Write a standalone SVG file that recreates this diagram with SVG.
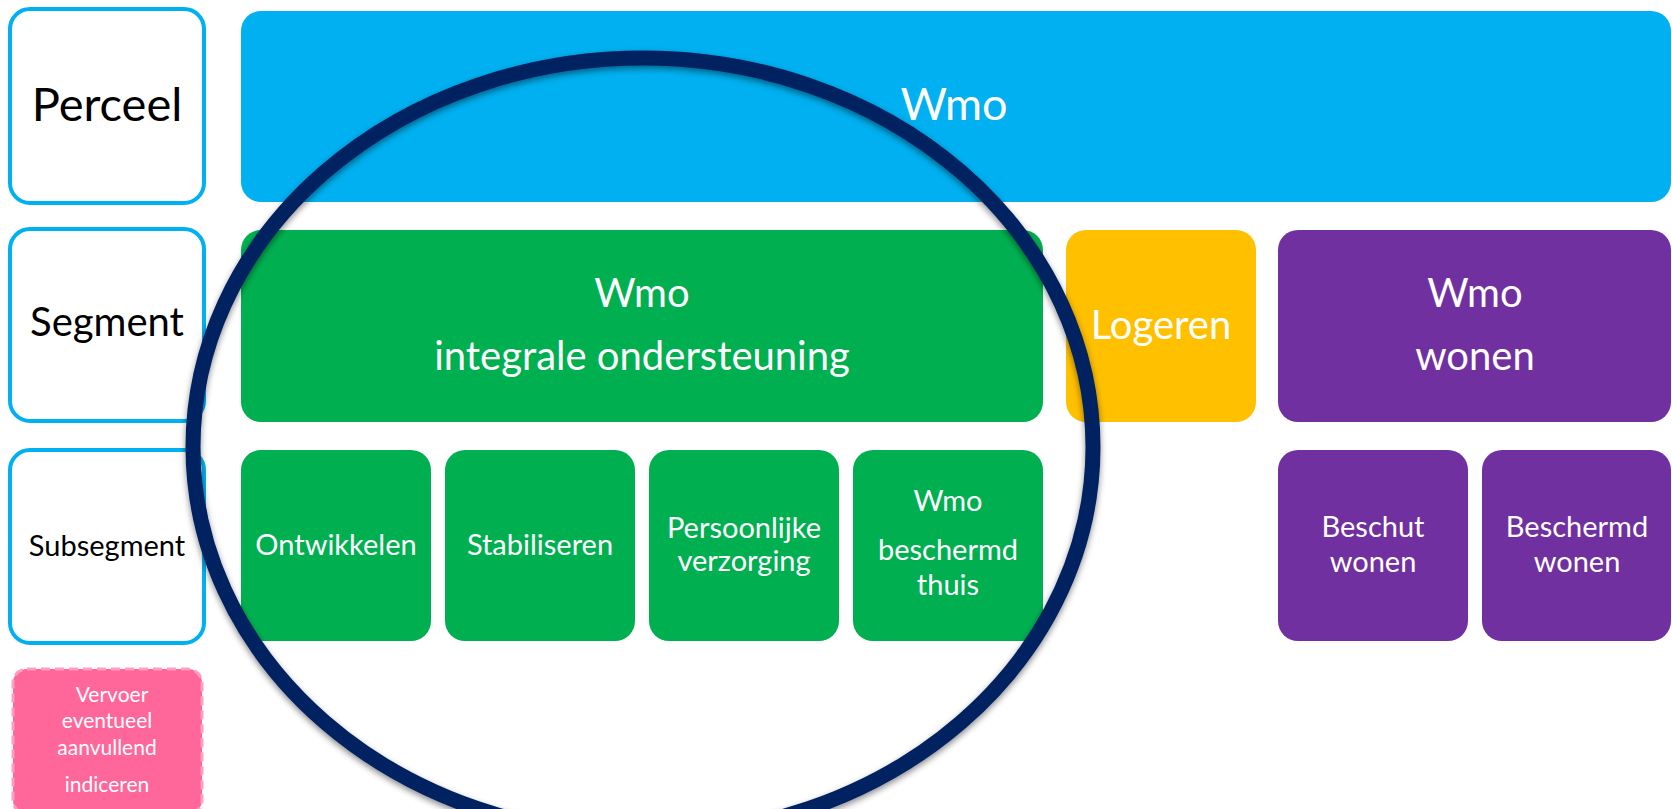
<svg xmlns="http://www.w3.org/2000/svg" width="1672" height="809" viewBox="0 0 1672 809">
<style>
text{font-family:Lato,"Liberation Sans","Noto Sans",sans-serif;text-anchor:middle}
.lab{fill:#fff;stroke:#00B0F0;stroke-width:4}
.t{fill:#000}
.w{fill:#fff}
.blue{fill:#00B0F0}
.green{fill:#00B050}
.yellow{fill:#FFC000}
.purple{fill:#7030A0}
</style>
<defs>
<filter id="sh" x="-10%" y="-10%" width="120%" height="120%">
<feDropShadow dx="0" dy="3" stdDeviation="3" flood-color="#000" flood-opacity="0.45"/>
</filter>
</defs>
<g id="label-perceel"><rect class="lab" x="10" y="9" width="194" height="194" rx="20"/><text class="t" x="107" y="121" font-size="47">Perceel</text></g>
<g id="label-segment"><rect class="lab" x="10" y="229" width="194" height="192" rx="20"/><text class="t" x="107" y="336" font-size="40">Segment</text></g>
<g id="label-subsegment"><rect class="lab" x="10" y="450" width="194" height="193" rx="20"/><text class="t" x="107" y="556" font-size="29">Subsegment</text></g>
<g id="vervoer"><rect x="13" y="669" width="189" height="145" rx="14" fill="#FF6699" stroke="#FF9EC0" stroke-width="3" stroke-dasharray="9 5"/>
<text class="w" font-size="21"><tspan x="112" y="702">Vervoer</tspan><tspan x="107" y="728">eventueel</tspan><tspan x="107" y="755">aanvullend</tspan><tspan x="107" y="792">indiceren</tspan></text></g>
<g id="wmo-perceel"><rect class="blue" x="241" y="11" width="1430" height="191" rx="20"/><text class="w" x="954" y="120" font-size="45">Wmo</text></g>
<g id="wmo-integrale"><rect class="green" x="241" y="230" width="802" height="192" rx="20"/><text class="w" font-size="40"><tspan x="642" y="307">Wmo</tspan><tspan x="642" y="370">integrale ondersteuning</tspan></text></g>
<g id="logeren"><rect class="yellow" x="1066" y="230" width="190" height="192" rx="20"/><text class="w" x="1161" y="339" font-size="40">Logeren</text></g>
<g id="wmo-wonen"><rect class="purple" x="1278" y="230" width="393" height="192" rx="20"/><text class="w" font-size="40"><tspan x="1475" y="307">Wmo</tspan><tspan x="1475" y="370">wonen</tspan></text></g>
<g id="ontwikkelen"><rect class="green" x="241" y="450" width="190" height="191" rx="20"/><text class="w" x="336" y="555" font-size="29">Ontwikkelen</text></g>
<g id="stabiliseren"><rect class="green" x="445" y="450" width="190" height="191" rx="20"/><text class="w" x="540" y="555" font-size="29">Stabiliseren</text></g>
<g id="persoonlijke"><rect class="green" x="649" y="450" width="190" height="191" rx="20"/><text class="w" font-size="29"><tspan x="744" y="538">Persoonlijke</tspan><tspan x="744" y="571">verzorging</tspan></text></g>
<g id="beschermd-thuis"><rect class="green" x="853" y="450" width="190" height="191" rx="20"/><text class="w" font-size="29"><tspan x="948" y="511">Wmo</tspan><tspan x="948" y="560">beschermd</tspan><tspan x="948" y="595">thuis</tspan></text></g>
<g id="beschut-wonen"><rect class="purple" x="1278" y="450" width="190" height="191" rx="20"/><text class="w" font-size="29"><tspan x="1373" y="537">Beschut</tspan><tspan x="1373" y="572">wonen</tspan></text></g>
<g id="beschermd-wonen"><rect class="purple" x="1482" y="450" width="189" height="191" rx="20"/><text class="w" font-size="29"><tspan x="1577" y="537">Beschermd</tspan><tspan x="1577" y="572">wonen</tspan></text></g>
<g id="connectors"></g>
<g id="circle"><ellipse cx="643" cy="447" rx="450" ry="389" fill="none" stroke="#002060" stroke-width="15" filter="url(#sh)"/></g>
</svg>
